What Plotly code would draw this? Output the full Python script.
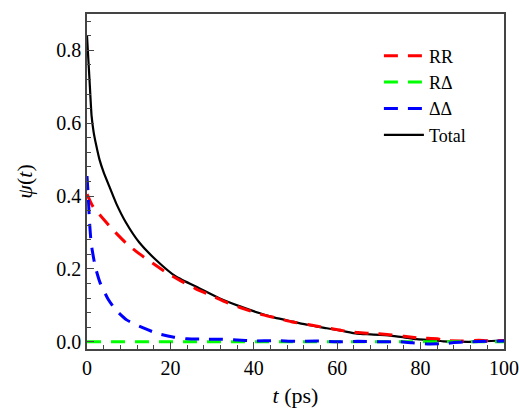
import plotly.graph_objects as go

t_total = [0, 0.3, 0.6, 1.1, 1.6, 2.2, 3, 4, 5.4, 7, 9.3, 12.5, 16.5, 21.3, 26.9, 32, 36.7,
           41.5, 45, 49.4, 53, 57.5, 61, 64.7, 68, 72.7, 76, 79, 82, 85.4, 89, 93.5, 97, 100]
total = [0.84, 0.78, 0.72, 0.62, 0.575, 0.54, 0.50, 0.465, 0.425, 0.38, 0.328, 0.273, 0.225,
         0.179, 0.147, 0.118, 0.097, 0.078, 0.066, 0.055, 0.046, 0.037, 0.030, 0.022, 0.020,
         0.017, 0.012, 0.007, 0.005, 0.001, 0.0, 0.0, 0.002, 0.004]

t_rr = [0, 0.6, 1.5, 3.4, 6, 9.35, 12.5, 15.7, 19, 22.5, 26, 29.5, 33, 36.7, 41.5, 45, 49, 53,
        57.5, 61, 65, 68, 72, 76, 80, 84, 86, 90, 94, 97, 100]
rr = [0.405, 0.39, 0.37, 0.344, 0.31, 0.271, 0.242, 0.216, 0.19, 0.167, 0.146, 0.128, 0.11,
      0.094, 0.076, 0.066, 0.055, 0.047, 0.038, 0.031, 0.025, 0.023, 0.02, 0.015, 0.01, 0.008,
      0.003, 0.002, 0.004, 0.002, 0.003]

t_rd = [0, 100]
rd = [0.0, 0.0]

t_dd = [0, 0.3, 0.6, 1.0, 1.5, 2, 3.1, 5, 6.7, 9.5, 13.5, 17, 20.6, 24, 28.7, 32, 36, 40, 45,
        50, 55, 60, 65, 70, 75, 78, 82, 86, 88, 92, 96, 100]
dd = [0.455, 0.40, 0.33, 0.27, 0.235, 0.205, 0.163, 0.118, 0.09, 0.06, 0.038, 0.022, 0.013,
      0.008, 0.007, 0.007, 0.005, 0.002, 0.003, 0.001, 0.002, 0.0, 0.001, 0.0, 0.0, -0.003,
      -0.006, -0.005, -0.002, 0.0, 0.001, 0.002]

FONT = "Liberation Serif"
DASH = "14px,10px"

fig = go.Figure()
fig.add_trace(go.Scatter(x=t_total, y=total, mode="lines", name="Total", legendrank=4,
                         line=dict(color="black", width=2.2, shape="spline", smoothing=0.5)))
fig.add_trace(go.Scatter(x=t_rr, y=rr, mode="lines", name="RR", legendrank=1,
                         line=dict(color="#FF0000", width=3, dash=DASH, shape="spline", smoothing=0.5)))
fig.add_trace(go.Scatter(x=t_rd, y=rd, mode="lines", name="RΔ", legendrank=2,
                         line=dict(color="#00FF00", width=3, dash=DASH)))
fig.add_trace(go.Scatter(x=t_dd, y=dd, mode="lines", name="ΔΔ", legendrank=3,
                         line=dict(color="#0000FF", width=3, dash=DASH, shape="spline", smoothing=0.5)))

axis_common = dict(showline=True, linecolor="#444", linewidth=1.5, mirror=True, automargin=False,
                   ticks="inside", tickcolor="#444", tickwidth=1.3, showgrid=False, zeroline=False,
                   tickfont=dict(family=FONT, size=20, color="black"))

fig.update_xaxes(range=[0, 100], dtick=20, tick0=0, ticklen=7,
                 minor=dict(dtick=4, ticks="inside", ticklen=4, tickcolor="#444", showgrid=False),
                 title=dict(text="<i>t</i> (ps)", font=dict(family=FONT, size=22, color="black"), standoff=10),
                 **axis_common)
fig.update_yaxes(range=[-0.02, 0.9], dtick=0.2, tick0=0, ticklen=7, tickformat=".1f",
                 minor=dict(dtick=0.04, ticks="inside", ticklen=4, tickcolor="#444", showgrid=False),
                 title=dict(text="<i>ψ</i>(<i>t</i>)", font=dict(family=FONT, size=22, color="black"), standoff=18),
                 **axis_common)

fig.update_layout(
    width=519, height=410,
    margin=dict(l=87, r=15, t=14, b=61),
    font=dict(family=FONT, color="black"),
    plot_bgcolor="white", paper_bgcolor="white",
    legend=dict(x=0.70, y=0.93, xanchor="left", yanchor="top", bgcolor="rgba(0,0,0,0)",
                font=dict(family=FONT, size=18, color="black"), tracegroupgap=0, itemwidth=40),
    showlegend=True,
)

fig.write_html("out.html")
